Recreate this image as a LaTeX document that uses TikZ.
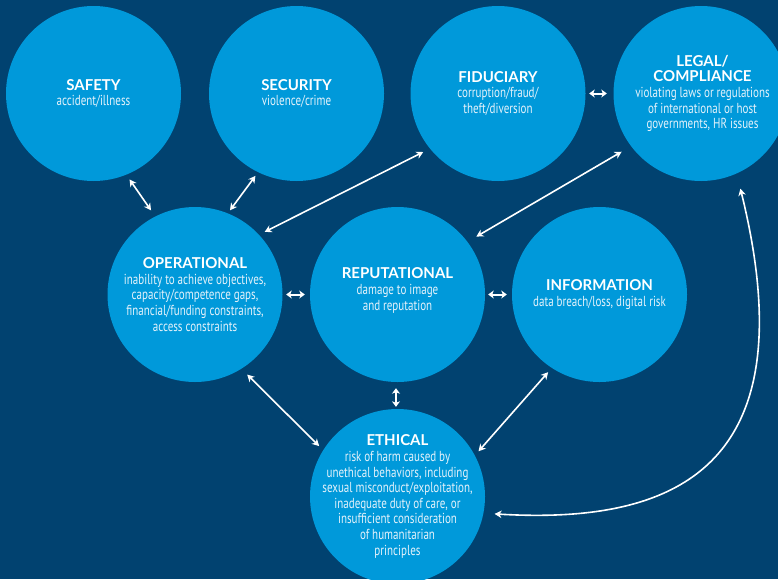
\documentclass[tikz,border=0pt]{standalone}
\usepackage{fontspec}
\setmainfont{PT Sans}
\newfontfamily\sfont{PT Sans}[FakeStretch=0.76]
\newfontfamily\tfont{Lato}
\usetikzlibrary{arrows.meta}
\definecolor{bg}{RGB}{1,66,112}
\definecolor{cir}{RGB}{0,153,218}
\definecolor{sub}{RGB}{228,242,251}
\newcommand\ttl[1]{{\tfont\bfseries\fontsize{15}{15.6}\selectfont\color{white}#1}}
\begin{document}
\begin{tikzpicture}[x=1pt,y=-1pt,
  risk/.style={circle,fill=cir,minimum size=175pt,inner sep=0pt},
  txt/.style={align=center,text=sub,inner sep=0pt,font=\sfont\fontsize{14.5}{15.6}\selectfont},
  tip/.tip={Stealth[length=7pt,width=7.5pt,inset=2.2pt]},
  stip/.tip={Stealth[length=5.5pt,width=8pt,inset=1.5pt]},
  arr/.style={draw=white,line width=1.6pt,tip-tip},
  sarr/.style={draw=white,line width=2pt,stip-stip}]
\useasboundingbox (0,0) rectangle (778,579);
\fill[bg] (0,0) rectangle (778,579);
\clip (0,0) rectangle (778,579);
% circles
\node[risk] (saf) at (93.5,93.5) {};
\node[risk] (sec) at (296.5,93.5) {};
\node[risk] (fid) at (498,93.5) {};
\node[risk] (leg) at (701,93.5) {};
\node[risk] (ope) at (195,294.5) {};
\node[risk] (rep) at (397.5,294.5) {};
\node[risk] (inf) at (599.5,294.5) {};
\node[risk] (eth) at (397.5,496.5) {};
% texts
\node[txt] (saf-t) at (saf) {\ttl{SAFETY}\\accident/illness};
\node[txt] (sec-t) at (sec) {\ttl{SECURITY}\\violence/crime};
\node[txt] (fid-t) at (fid) {\ttl{FIDUCIARY}\\corruption/fraud/\\theft/diversion};
\node[txt,xshift=1.5pt] (leg-t) at (leg) {\ttl{LEGAL/}\\\ttl{COMPLIANCE}\\violating laws or regulations\\of international or host\\governments, HR issues};
\node[txt] (ope-t) at (ope) {\ttl{OPERATIONAL}\\inability to achieve objectives,\\capacity/competence gaps,\\financial/funding constraints,\\access constraints};
\node[txt,yshift=4pt] (rep-t) at (rep) {\ttl{REPUTATIONAL}\\damage to image\\and reputation};
\node[txt] (inf-t) at (inf) {\ttl{INFORMATION}\\data breach/loss, digital risk};
\node[txt] (eth-t) at (eth) {\ttl{ETHICAL}\\risk of harm caused by\\unethical behaviors, including\\sexual misconduct/exploitation,\\inadequate duty of care, or\\insufficient consideration\\of humanitarian\\principles};
% connectors
\draw[arr,shorten <=5.6pt,shorten >=7.3pt] (saf.-68.3) -- (ope.117);
\draw[arr,shorten <=4.4pt,shorten >=3.6pt] (sec.-116.1) -- (ope.68.1);
\draw[arr,shorten <=7.4pt,shorten >=6.2pt] (fid.-141.2) -- (ope.43.5);
\draw[arr,shorten <=10.8pt,shorten >=10.2pt] (leg.-143.5) -- (rep.37.5);
\draw[sarr,shorten <=3.5pt,shorten >=6.5pt] (fid.0) -- (leg.180);
\draw[sarr,shorten <=3.5pt,shorten >=5pt] (ope.0) -- (rep.180);
\draw[sarr,shorten <=3pt,shorten >=5pt] (rep.0) -- (inf.180);
\draw[sarr,shorten <=6pt,shorten >=2pt] (rep.-91.6) -- (eth.91.6);
\draw[arr,shorten <=8.1pt,shorten >=5.6pt] (ope.-58.5) -- (eth.148.6);
\draw[arr,shorten <=5.5pt,shorten >=5.4pt] (inf.-123.6) -- (eth.28.6);
\draw[arr,shorten <=15.5pt,shorten >=11pt] (leg.-66.5) .. controls +(74,300) and +(185,11) .. (eth.-11.4);
\end{tikzpicture}
\end{document}
